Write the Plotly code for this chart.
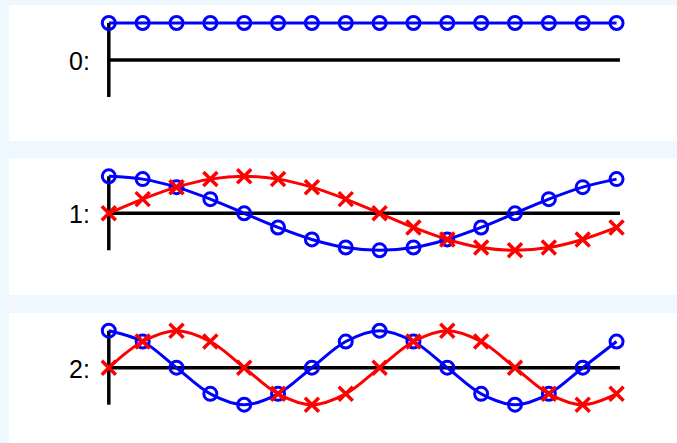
import plotly.graph_objects as go

# ---- data ----
n_index = list(range(16))
row_labels = ["0:", "1:", "2:"]

cos_k0 = [1.0] * 16
cos_k1 = [1.0, 0.924, 0.707, 0.383, 0.0, -0.383, -0.707, -0.924,
          -1.0, -0.924, -0.707, -0.383, 0.0, 0.383, 0.707, 0.924]
sin_k1 = [0.0, 0.383, 0.707, 0.924, 1.0, 0.924, 0.707, 0.383,
          0.0, -0.383, -0.707, -0.924, -1.0, -0.924, -0.707, -0.383]
cos_k2 = [1.0, 0.707, 0.0, -0.707, -1.0, -0.707, 0.0, 0.707,
          1.0, 0.707, 0.0, -0.707, -1.0, -0.707, 0.0, 0.707]
sin_k2 = [0.0, 0.707, 1.0, 0.707, 0.0, -0.707, -1.0, -0.707,
          0.0, 0.707, 1.0, 0.707, 0.0, -0.707, -1.0, -0.707]

cos_rows = [cos_k0, cos_k1, cos_k2]
sin_rows = [None, sin_k1, sin_k2]

axis_x_end = 15.1
axis_y_span = [1.0, -1.0]

# ---- layout geometry ----
W, H = 677, 443
panel_tops = [5, 158.5, 313]
panel_bottoms = [141, 295, 443]
axis_px = [60, 213.3, 367.7]
px_per_unit = 37.0
x0_px, dx_px = 108.8, 33.85
left_px = 9

x_range = [(left_px - x0_px) / dx_px, (W - x0_px) / dx_px]

fig = go.Figure()
BLUE = "#0000ff"
RED = "#ff0000"

for i in range(3):
    xa = "x" if i == 0 else f"x{i+1}"
    ya = "y" if i == 0 else f"y{i+1}"
    # axis lines
    fig.add_trace(go.Scatter(x=[0, axis_x_end], y=[0, 0], mode="lines",
                             line=dict(color="black", width=3.5),
                             xaxis=xa, yaxis=ya, hoverinfo="skip"))
    fig.add_trace(go.Scatter(x=[0, 0], y=axis_y_span, mode="lines",
                             line=dict(color="black", width=3.5),
                             xaxis=xa, yaxis=ya, hoverinfo="skip"))
    # cosine (blue circles)
    fig.add_trace(go.Scatter(x=n_index, y=cos_rows[i], mode="lines+markers",
                             line=dict(color=BLUE, width=3, shape="spline", smoothing=1.0),
                             marker=dict(symbol="circle-open", size=13, color=BLUE,
                                         line=dict(color=BLUE, width=3)),
                             xaxis=xa, yaxis=ya))
    # sine (red crosses)
    if sin_rows[i] is not None:
        fig.add_trace(go.Scatter(x=n_index, y=sin_rows[i], mode="lines+markers",
                                 line=dict(color=RED, width=3, shape="spline", smoothing=1.0),
                                 marker=dict(symbol="x-thin", size=14, color=RED,
                                             line=dict(color=RED, width=3.5)),
                                 xaxis=xa, yaxis=ya))
    fig.add_annotation(x=0, y=0, xref=xa, yref=ya, text=row_labels[i],
                       showarrow=False, xanchor="right", yanchor="middle",
                       xshift=-17, yshift=-1,
                       font=dict(family="Liberation Sans, Arial, sans-serif",
                                 size=25, color="#000000"))

layout = dict(
    width=W, height=H,
    margin=dict(l=0, r=0, t=0, b=0),
    paper_bgcolor="#f0f8ff",
    plot_bgcolor="#ffffff",
    showlegend=False,
)
for i in range(3):
    xk = "xaxis" if i == 0 else f"xaxis{i+1}"
    yk = "yaxis" if i == 0 else f"yaxis{i+1}"
    top, bot, ax = panel_tops[i], panel_bottoms[i], axis_px[i]
    layout[xk] = dict(domain=[left_px / W, 1.0], range=x_range, visible=False,
                      showgrid=False, zeroline=False, fixedrange=True,
                      anchor="y" if i == 0 else f"y{i+1}")
    layout[yk] = dict(domain=[(H - bot) / H, (H - top) / H],
                      range=[-(bot - ax) / px_per_unit, (ax - top) / px_per_unit],
                      visible=False, showgrid=False, zeroline=False, fixedrange=True,
                      anchor="x" if i == 0 else f"x{i+1}")
fig.update_layout(**layout)

fig.write_html("out.html", config={"displayModeBar": False},
               post_script="document.body.style.margin='0';"
                           "document.body.style.background='#f0f8ff';"
                           "document.body.style.overflow='hidden';")
